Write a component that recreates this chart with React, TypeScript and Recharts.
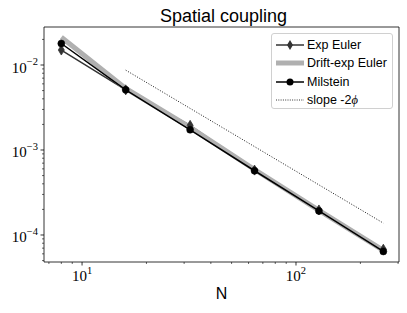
import React from 'react';
import { LineChart, Line, XAxis, YAxis, ReferenceArea, Legend } from 'recharts';

// ---- data ----
const N = [8, 16, 32, 64, 128, 256];
const expEuler = [0.015, 0.0051, 0.00195, 0.00058, 0.000197, 0.000068];
const driftExpEuler = [0.0212, 0.0053, 0.00185, 0.00059, 0.000195, 0.000066];
const milstein = [0.0179, 0.0051, 0.00173, 0.00057, 0.000192, 0.000064];
const slopeN = [16, 256];
const slopeValues = [0.0087, 0.000138];

const seriesNames = ['Exp Euler', 'Drift-exp Euler', 'Milstein', 'slope -2'];
const titleText = 'Spatial coupling';
const xLabelText = 'N';

const xMajorTicks = [10, 100];
const xMinorTicks = [7, 8, 9, 20, 30, 40, 50, 60, 70, 80, 90, 200, 300];
const yMajorTicks = [1e-4, 1e-3, 1e-2];
const yMinorTicks = [
  5e-5, 6e-5, 7e-5, 8e-5, 9e-5,
  2e-4, 3e-4, 4e-4, 5e-4, 6e-4, 7e-4, 8e-4, 9e-4,
  2e-3, 3e-3, 4e-3, 5e-3, 6e-3, 7e-3, 8e-3, 9e-3,
  2e-2,
];
const xDomain = [6.64, 303];
const yDomain = [4.81e-5, 0.028];

const data = N.map((n, i) => {
  const si = slopeN.indexOf(n);
  return {
    N: n,
    expEuler: expEuler[i],
    driftExpEuler: driftExpEuler[i],
    milstein: milstein[i],
    slope: si >= 0 ? slopeValues[si] : null,
  };
});

const SERIF = '"Liberation Serif", "DejaVu Serif", serif';
const SANS = '"Liberation Sans", Arial, sans-serif';

const isMajor = (list: number[], v: number) => list.some((m) => Math.abs(m - v) / m < 1e-9);
const expOf = (v: number) => Math.round(Math.log10(v));

const XTick = (props: any) => {
  const { x, y, payload } = props;
  const v = payload.value;
  const major = isMajor(xMajorTicks, v);
  const e = expOf(v);
  return (
    <g>
      <line x1={x} x2={x} y1={y} y2={y + (major ? 3.5 : 2)} stroke="#000" strokeWidth={major ? 0.8 : 0.6} />
      {major && (
        <text x={x} y={y + 19} textAnchor="middle" fontFamily={SERIF} fontSize={15} fill="#000">
          <tspan>10</tspan>
          <tspan dy={-7} fontSize={10.5}>{String(e).replace('-', '\u2212')}</tspan>
        </text>
      )}
    </g>
  );
};

const YTick = (props: any) => {
  const { x, y, payload } = props;
  const v = payload.value;
  const major = isMajor(yMajorTicks, v);
  const e = expOf(v);
  return (
    <g>
      <line x1={x} x2={x - (major ? 3.5 : 2)} y1={y} y2={y} stroke="#000" strokeWidth={major ? 0.8 : 0.6} />
      {major && (
        <text x={x - 6} y={y + 7.5} textAnchor="end" fontFamily={SERIF} fontSize={15} fill="#000">
          <tspan>10</tspan>
          <tspan dy={-7.5} fontSize={10.5}>{String(e).replace('-', '\u2212')}</tspan>
        </text>
      )}
    </g>
  );
};

const DiamondDot = (props: any) => {
  const { cx, cy, index } = props;
  if (cx == null || cy == null) return <g key={`d-${index}`} />;
  return (
    <path
      key={`d-${index}`}
      d={`M${cx},${cy - 5} L${cx + 3},${cy} L${cx},${cy + 5} L${cx - 3},${cy} Z`}
      fill="#333333"
      stroke="#333333"
      strokeWidth={0.8}
    />
  );
};

const LegendBox = () => {
  const rows = [
    { name: seriesNames[0], kind: 'exp' },
    { name: seriesNames[1], kind: 'drift' },
    { name: seriesNames[2], kind: 'mil' },
    { name: seriesNames[3], kind: 'slope' },
  ];
  const centers = [11, 29, 47.5, 66];
  return (
    <div
      style={{
        position: 'relative',
        width: 122,
        height: 76,
        boxSizing: 'border-box',
        border: '1px solid #d0d0d0',
        borderRadius: 3,
        background: 'rgba(255,255,255,0.85)',
        fontFamily: SANS,
        fontSize: 12.5,
        color: '#000',
      }}
    >
      {rows.map((r, i) => (
        <div key={r.kind} style={{ position: 'absolute', left: 0, top: centers[i] - 9, height: 18, width: 122 }}>
          <svg width={30} height={18} style={{ position: 'absolute', left: 3, top: 0 }}>
            {r.kind === 'exp' && (
              <g>
                <line x1={1} x2={29} y1={9} y2={9} stroke="#333333" strokeWidth={1.5} />
                <path d="M15,4 L18,9 L15,14 L12,9 Z" fill="#333333" />
              </g>
            )}
            {r.kind === 'drift' && <line x1={1} x2={29} y1={9} y2={9} stroke="#b0b0b0" strokeWidth={5} />}
            {r.kind === 'mil' && (
              <g>
                <line x1={1} x2={29} y1={9} y2={9} stroke="#000" strokeWidth={1.5} />
                <circle cx={15} cy={9} r={3.5} fill="#000" />
              </g>
            )}
            {r.kind === 'slope' && (
              <line x1={1} x2={29} y1={9} y2={9} stroke="#000" strokeWidth={0.8} strokeDasharray="1 1.3" />
            )}
          </svg>
          <span style={{ position: 'absolute', left: 35, top: 0, lineHeight: '18px', whiteSpace: 'nowrap' }}>
            {r.name}
            {r.kind === 'slope' && <span style={{ fontFamily: SERIF, fontStyle: 'italic' }}>{'\u03d5'}</span>}
          </span>
        </div>
      ))}
    </div>
  );
};

export default function App() {
  return (
    <div style={{ position: 'fixed', left: 0, top: 0, width: 407, height: 313, background: '#fff' }}>
      <div
        style={{
          position: 'absolute',
          left: 223.5,
          top: 6.5,
          transform: 'translateX(-50%)',
          fontFamily: SANS,
          fontSize: 18,
          lineHeight: '18px',
          whiteSpace: 'nowrap',
          color: '#000',
        }}
      >
        {titleText}
      </div>
      <LineChart width={407} height={313} data={data} margin={{ top: 27, right: 8, bottom: 0, left: 0 }}>
        <XAxis
          dataKey="N"
          type="number"
          scale="log"
          domain={xDomain}
          allowDataOverflow
          ticks={[...xMinorTicks, ...xMajorTicks].sort((a, b) => a - b)}
          interval={0}
          tick={<XTick />}
          tickLine={false}
          axisLine={false}
          tickSize={0}
          tickMargin={0}
          height={51}
          label={{
            content: (p: any) => {
              const vb = p.viewBox || {};
              return (
                <text x={vb.x + vb.width / 2} y={vb.y + 37} textAnchor="middle" fontFamily={SANS} fontSize={16} fill="#000">
                  {xLabelText}
                </text>
              );
            },
          }}
        />
        <YAxis
          type="number"
          scale="log"
          domain={yDomain}
          allowDataOverflow
          ticks={[...yMinorTicks, ...yMajorTicks].sort((a, b) => a - b)}
          interval={0}
          tick={<YTick />}
          tickLine={false}
          axisLine={false}
          tickSize={0}
          tickMargin={0}
          width={44}
        />
        <ReferenceArea
          x1={xDomain[0]}
          x2={xDomain[1]}
          y1={yDomain[0]}
          y2={yDomain[1]}
          fill="none"
          fillOpacity={0}
          stroke="#000"
          strokeWidth={0.8}
          ifOverflow="visible"
        />
        <Line
          dataKey="slope"
          stroke="#000"
          strokeWidth={0.9}
          strokeDasharray="1 1.65"
          dot={false}
          connectNulls
          isAnimationActive={false}
        />
        <Line dataKey="expEuler" stroke="#333333" strokeWidth={1.5} dot={<DiamondDot />} isAnimationActive={false} />
        <Line dataKey="driftExpEuler" stroke="#b0b0b0" strokeWidth={5} dot={false} isAnimationActive={false} />
        <Line
          dataKey="milstein"
          stroke="#000"
          strokeWidth={1.5}
          dot={{ r: 3.5, fill: '#000', stroke: '#000', strokeWidth: 0.5 }}
          isAnimationActive={false}
        />
        <Legend
          layout="horizontal"
          verticalAlign="middle"
          align="center"
          wrapperStyle={{ left: 271, top: 33, width: 122 }}
          content={() => <LegendBox />}
        />
      </LineChart>
    </div>
  );
}
